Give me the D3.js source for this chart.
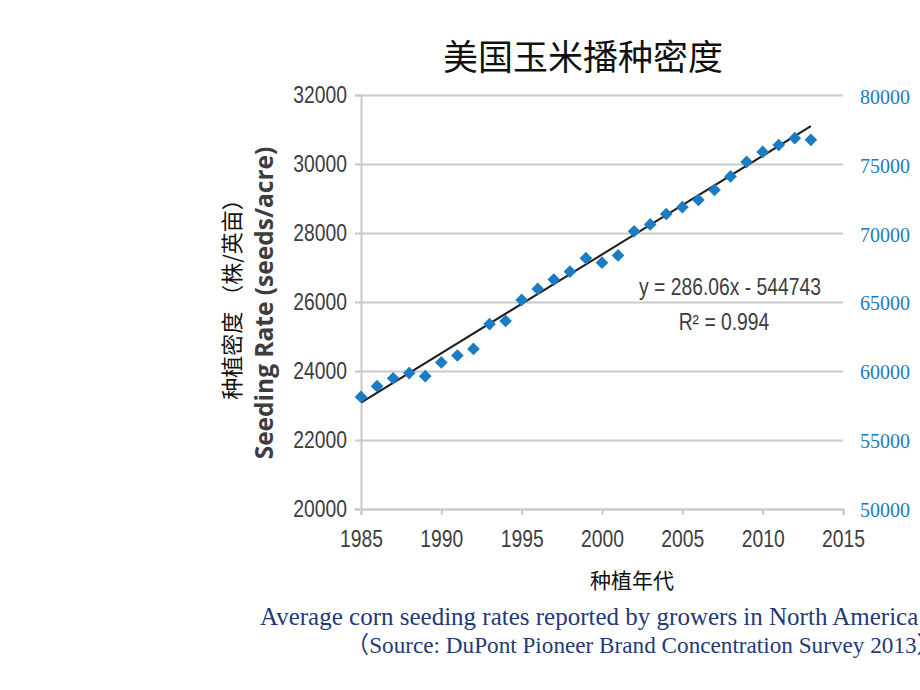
<!DOCTYPE html>
<html>
<head>
<meta charset="utf-8">
<script src="https://cdn.jsdelivr.net/npm/d3@7"></script>
<style>
  body { margin: 0; background: #fff; }
  svg { display: block; }
</style>
</head>
<body>
<div id="chart"></div>
<script>
// Data
const years = [1985, 1986, 1987, 1988, 1989, 1990, 1991, 1992, 1993, 1994,
               1995, 1996, 1997, 1998, 1999, 2000, 2001, 2002, 2003, 2004,
               2005, 2006, 2007, 2008, 2009, 2010, 2011, 2012, 2013];
const seedingRates = [23250, 23560, 23790, 23940, 23850, 24250, 24450, 24640, 25360, 25450,
                      26060, 26380, 26650, 26880, 27270, 27140, 27350, 28050, 28250, 28550,
                      28750, 28960, 29250, 29640, 30060, 30350, 30550, 30750, 30700];
const leftTicks = [20000, 22000, 24000, 26000, 28000, 30000, 32000];
const rightTicks = [50000, 55000, 60000, 65000, 70000, 75000, 80000];
const xTicks = [1985, 1990, 1995, 2000, 2005, 2010, 2015];
const slope = 286.06;
const intercept = -544743;

const width = 920;
const height = 690;
const plot = { left: 361, right: 843, top: 95, bottom: 509 };

// the chart's tick font is a condensed sans, so squeeze Liberation Sans a bit
const narrow = 0.84;
const tickFont = "'Liberation Sans', Arial, sans-serif";
const gridColor = "#c9c9c9";

const svg = d3
    .select("#chart")
    .append("svg")
    .attr("width", width)
    .attr("height", height);

// Scales
const xScale = d3.scaleLinear().domain([1985, 2015]).range([plot.left, plot.right]);
const yScale = d3.scaleLinear().domain([20000, 32000]).range([plot.bottom, plot.top]);
const yRight = d3.scaleLinear().domain([50000, 80000]).range([plot.bottom + 1, plot.top + 2]);

// Title
svg.append("text")
    .attr("x", 583)
    .attr("y", 70)
    .attr("text-anchor", "middle")
    .style("font-family", "'Noto Sans CJK SC', sans-serif")
    .style("font-size", "35px")
    .style("fill", "#111")
    .text("美国玉米播种密度");

// Grid lines
svg.append("g")
    .attr("class", "grid")
    .attr("transform", `translate(${plot.left},0)`)
    .call(d3.axisLeft(yScale).tickValues(leftTicks).tickSize(-(plot.right - plot.left)).tickFormat(""))
    .call(g => g.select(".domain").remove())
    .call(g => g.selectAll("line").attr("stroke", gridColor).attr("stroke-width", 2));

// Left axis
const yAxisG = svg.append("g")
    .attr("class", "y-axis")
    .attr("transform", `translate(${plot.left},0)`)
    .call(d3.axisLeft(yScale).tickValues(leftTicks).tickSize(6).tickPadding(8).tickFormat(d3.format("d")));
yAxisG.select(".domain").attr("stroke", gridColor).attr("stroke-width", 2);
yAxisG.selectAll("line").attr("stroke", gridColor).attr("stroke-width", 2);
yAxisG.selectAll("text")
    .attr("x", -14 / narrow)
    .attr("transform", `scale(${narrow},1)`)
    .style("font-family", tickFont)
    .style("font-size", "23px")
    .style("fill", "#3d3d3d");

// Bottom axis
const xAxisG = svg.append("g")
    .attr("class", "x-axis")
    .attr("transform", `translate(0,${plot.bottom})`)
    .call(d3.axisBottom(xScale).tickValues(xTicks).tickSize(6).tickPadding(16).tickFormat(d3.format("d")));
xAxisG.select(".domain").attr("stroke", gridColor).attr("stroke-width", 2);
xAxisG.selectAll("line").attr("stroke", gridColor).attr("stroke-width", 2);
xAxisG.selectAll("text")
    .attr("transform", `scale(${narrow},1)`)
    .style("font-family", tickFont)
    .style("font-size", "23px")
    .style("fill", "#3d3d3d");

// Right axis (labels only)
const yRightG = svg.append("g")
    .attr("class", "y-axis-right")
    .attr("transform", `translate(${plot.right},0)`)
    .call(d3.axisRight(yRight).tickValues(rightTicks).tickSize(0).tickPadding(17).tickFormat(d3.format("d")));
yRightG.select(".domain").remove();
yRightG.selectAll("text")
    .style("font-family", "'Liberation Serif', 'Times New Roman', serif")
    .style("font-size", "20px")
    .style("fill", "#1a7cc4");

// Axis titles
svg.append("text")
    .attr("transform", `translate(273,303) rotate(-90)`)
    .attr("text-anchor", "middle")
    .style("font-family", "'Open Sans', 'DejaVu Sans', sans-serif")
    .style("font-weight", "bold")
    .style("font-size", "24.5px")
    .style("fill", "#3d3d3d")
    .text("Seeding Rate (seeds/acre)");

svg.append("text")
    .attr("transform", `translate(240,294) rotate(-90)`)
    .attr("text-anchor", "middle")
    .style("font-family", "'Noto Sans CJK SC', sans-serif")
    .style("font-size", "22px")
    .style("fill", "#111")
    .text("种植密度 （株/英亩）");

svg.append("text")
    .attr("x", 632)
    .attr("y", 588)
    .attr("text-anchor", "middle")
    .style("font-family", "'Noto Sans CJK SC', sans-serif")
    .style("font-size", "21px")
    .style("fill", "#111")
    .text("种植年代");

// Trend line from the fitted equation
const trend = [years[0], years[years.length - 1]].map(yr => ({ year: yr, value: slope * yr + intercept }));
const line = d3.line()
    .x(d => xScale(d.year))
    .y(d => yScale(d.value));
svg.append("path")
    .datum(trend)
    .attr("d", line)
    .attr("fill", "none")
    .attr("stroke", "#1e1e1e")
    .attr("stroke-width", 2);

// Points (diamonds)
const diamond = d3.symbol().type(d3.symbolSquare).size(80);
svg.append("g")
    .selectAll("path")
    .data(years.map((yr, i) => ({ year: yr, value: seedingRates[i] })))
    .join("path")
    .attr("d", diamond)
    .attr("transform", d => `translate(${xScale(d.year)},${yScale(d.value)}) rotate(45)`)
    .attr("fill", "#1b7cc3");

// Equation label
const eq = svg.append("g")
    .attr("transform", `scale(${narrow},1)`)
    .style("font-family", tickFont)
    .style("font-size", "23px")
    .style("fill", "#3d3d3d")
    .attr("text-anchor", "middle");
eq.append("text")
    .attr("x", 730 / narrow)
    .attr("y", 295)
    .text(`y = ${slope}x - ${-intercept}`);
eq.append("text")
    .attr("x", 724 / narrow)
    .attr("y", 330)
    .text("R² = 0.994");

// Caption
svg.append("text")
    .attr("x", 260)
    .attr("y", 625)
    .style("font-family", "'Liberation Serif', 'Times New Roman', serif")
    .style("font-size", "25px")
    .style("fill", "#1f3a78")
    .text("Average corn seeding rates reported by growers in North America");

svg.append("text")
    .attr("x", 346)
    .attr("y", 653)
    .style("font-family", "'Liberation Serif', 'Noto Sans CJK SC', serif")
    .style("font-size", "23.2px")
    .style("fill", "#1f3a78")
    .text("（Source: DuPont Pioneer Brand Concentration Survey 2013）");
</script>
</body>
</html>
